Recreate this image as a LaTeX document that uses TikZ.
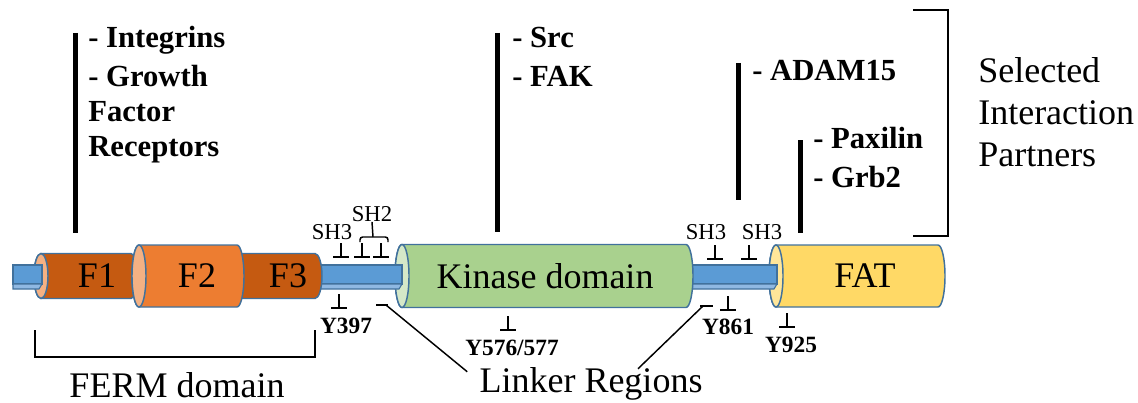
\documentclass[tikz,border=0pt]{standalone}
\usepackage{fontspec}
\setmainfont{Liberation Serif}[BoldFont={Liberation Serif Bold}]
\usepackage{tikz}

\definecolor{edgeblue}{HTML}{41719C}
\definecolor{rodblue}{HTML}{5B9BD5}
\definecolor{rodlight}{HTML}{8FB8E2}
\definecolor{fermdark}{HTML}{C55A11}
\definecolor{fermmid}{HTML}{ED7D31}
\definecolor{fermface}{HTML}{F4B183}
\definecolor{kinasegreen}{HTML}{A9D18E}
\definecolor{kinaseface}{HTML}{D5E8C8}
\definecolor{fatyellow}{HTML}{FFD966}
\definecolor{fatface}{HTML}{FFE699}

% cylinder: left x, right x, half height, body colour, end face colour
\newcommand{\domaincyl}[5]{%
  \filldraw[fill=#4, draw=edgeblue, line width=1.1pt]
    (#1,276-#3) -- (#2,276-#3) arc (-90:90:7 and #3) -- (#1,276+#3) arc (90:270:7 and #3) -- cycle;
  \filldraw[fill=#5, draw=edgeblue, line width=1.1pt] (#1,276) ellipse (7 and #3);
}
% linker rod: left x, right x
\newcommand{\linkerrod}[2]{%
  \filldraw[fill=rodblue, draw=edgeblue, line width=0.8pt] (#1,265) rectangle (#2,284);
  \filldraw[fill=rodlight, draw=edgeblue, line width=0.8pt] (#1,284) -- (#2,284) -- (#2-3,289) -- (#1,289) -- cycle;
}

\begin{document}
\begin{tikzpicture}[
        x=0.75pt, y=-0.75pt,
        domainlabel/.style={
            font=\fontsize{27}{31}\selectfont,
            inner sep=0pt
        },
        partner/.style={
            font=\bfseries\fontsize{23}{27}\selectfont,
            anchor=base west,
            inner sep=0pt
        },
        sidelabel/.style={
            font=\fontsize{27}{31}\selectfont,
            anchor=base west,
            inner sep=0pt
        },
        sitelabel/.style={
            font=\fontsize{17}{20}\selectfont,
            inner sep=0pt
        },
        residue/.style={
            font=\bfseries\fontsize{17.5}{20}\selectfont,
            inner sep=0pt
        },
        partnerbar/.style={line width=3.75pt},
        bracket/.style={line width=2.2pt},
        marker/.style={line width=1.1pt},
        sitemark/.pic={\draw[marker] (0,0) -- (0,14) (-8,14) -- (8,14);}
    ]
    \useasboundingbox (0,0) rectangle (1138,403);

    % protein backbone
    \domaincyl{776}{938}{31}{fatyellow}{fatface}
    \linkerrod{680}{777}
    \domaincyl{402}{686}{31.5}{kinasegreen}{kinaseface}
    \linkerrod{310}{402}
    \domaincyl{235}{315}{22.5}{fermdark}{fermface}
    \domaincyl{41}{131}{22.5}{fermdark}{fermface}
    \domaincyl{139}{237}{31}{fermmid}{fermface}
    \linkerrod{13}{42}

    \node[domainlabel] (f1) at (97,276) {F1};
    \node[domainlabel] (f2) at (197,276) {F2};
    \node[domainlabel] (f3) at (288,276) {F3};
    \node[domainlabel] (kinase) at (545,276) {Kinase domain};
    \node[domainlabel] (fat) at (865,276) {FAT};

    % binding sites above
    \node[sitelabel] (sh3a) at (332,232) {SH3};
    \node[sitelabel] (sh2) at (372,214) {SH2};
    \node[sitelabel] (sh3b) at (706,232) {SH3};
    \node[sitelabel] (sh3c) at (762,232) {SH3};
    \pic at (341,243) {sitemark};
    \pic at (362,243) {sitemark};
    \pic at (381,243) {sitemark};
    \pic at (715,245) {sitemark};
    \pic at (749,245) {sitemark};
    \draw[marker, rounded corners=2pt] (360,242) -- (360,237) -- (388,237) -- (388,242);
    \draw[marker] (373,237) -- (sh2.south);

    % phosphorylation sites below
    \pic at (339,294) {sitemark};
    \pic at (508,316) {sitemark};
    \pic at (728,296) {sitemark};
    \pic at (787,313) {sitemark};
    \node[residue] (y397) at (346,326) {Y397};
    \node[residue] (y576) at (512,348) {Y576/577};
    \node[residue] (y861) at (728,327) {Y861};
    \node[residue] (y925) at (791,345) {Y925};

    % FERM bracket
    \draw[bracket] (35,330) -- (35,357) -- (315,357) -- (315,330);
    \node[domainlabel] (ferm) at (177,385) {FERM domain};

    % linker regions
    \node[domainlabel, anchor=base] (linker) at (591,392) {Linker Regions};
    \coordinate (lnkA) at (386,305);
    \coordinate (lnkB) at (703,306);
    \draw[marker] (376,305) -- (388,305);
    \draw[marker] (700,306) -- (713,306);
    \draw[marker] (lnkA) -- ([shift={(-12,5)}]linker.north west);
    \draw[marker] (lnkB) -- ([shift={(47,2)}]linker.north);

    % interaction partners
    \draw[partnerbar] (75,33) -- (75,233);
    \node[partner] (integ) at (88,48) {- Integrins};
    \node[partner] (growth) at (88,87) {- Growth};
    \node[partner] (factor) at (88,121) {Factor};
    \node[partner] (recep) at (88,156) {Receptors};

    \draw[partnerbar] (497,33) -- (497,232);
    \node[partner] (src) at (512,48) {- Src};
    \node[partner] (fak) at (512,87) {- FAK};

    \draw[partnerbar] (738,63) -- (738,200);
    \node[partner] (adam) at (752,80) {- ADAM15};

    \draw[partnerbar] (800,140) -- (800,233);
    \node[partner] (paxilin) at (813,148) {- Paxilin};
    \node[partner] (grb) at (813,187) {- Grb2};

    \draw[bracket] (913,10) -- (948,10) -- (948,236) -- (913,236);
    \node[sidelabel] (sel) at (978,83) {Selected};
    \node[sidelabel] (inter) at (978,124) {Interaction};
    \node[sidelabel] (partn) at (978,166) {Partners};

    \end{tikzpicture}
\end{document}
